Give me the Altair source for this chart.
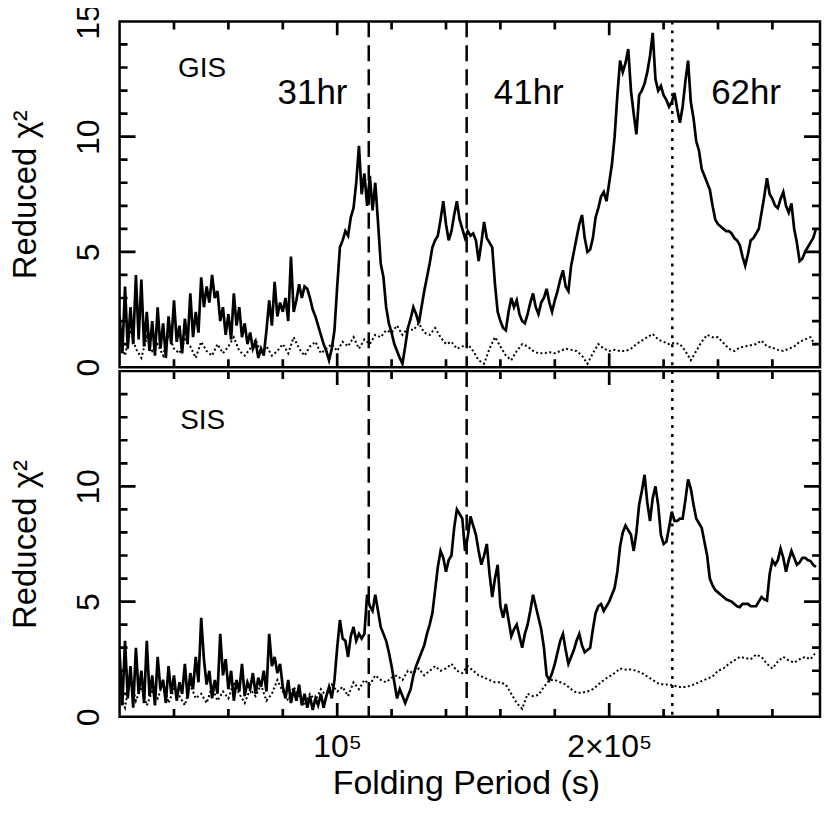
import altair as alt
import numpy as np
import pandas as pd

# ---------------- data ----------------
# Folding-period grids start at 20 ks; solid curves every 1 ks, dotted every 2 ks
PERIOD_START_KS = 20
SOLID_STEP_KS = 1
DOT_STEP_KS = 2

gis_solid = [
    2.2, 0.6, 3.5, 0.8, 2.6, 1.0, 4.0, 1.2, 3.8, 0.9,
    2.4, 0.7, 2.0, 0.5, 2.6, 0.8, 1.9, 0.4, 2.2, 1.0,
    2.9, 1.1, 1.8, 0.6, 2.1, 1.0, 3.2, 1.3, 2.4, 1.5,
    3.9, 2.6, 3.5, 2.8, 4.0, 3.0, 3.3, 2.0, 2.6, 1.4,
    2.3, 1.2, 3.2, 1.8, 2.6, 1.3, 1.9, 1.0, 1.5, 0.8,
    1.1, 0.4, 0.8, 0.5, 1.6, 2.9, 1.8, 3.7, 2.2, 2.8,
    2.4, 3.0, 2.0, 4.8, 2.4, 2.9, 3.6, 3.0, 3.5, 3.4,
    3.0, 2.5, 2.2, 1.8, 1.4, 1.0, 0.7, 0.3, 0.8, 1.6,
    3.5, 5.2, 5.5, 5.9, 5.7, 6.5, 6.9, 8.0, 9.6, 7.5,
    8.4, 7.0, 8.3, 6.8, 8.0, 6.3, 4.5, 3.9, 2.6, 1.9,
    1.5, 1.0, 0.7, 0.4, 0.15, 0.9, 1.7, 2.1, 2.6, 2.3,
    1.9, 2.6, 3.3, 3.9, 4.5, 5.2, 5.5, 5.7, 6.4, 7.2,
    6.2, 5.5, 5.9, 6.6, 7.2, 6.4, 6.0, 5.6, 5.9, 5.7,
    5.8, 5.5, 4.6, 5.4, 6.3, 5.6, 5.4, 5.2, 3.6, 2.4,
    2.0, 1.7, 1.6, 2.4, 3.0, 2.6, 2.9, 2.3, 2.0, 1.9,
    2.3, 2.8, 3.2, 2.6, 2.3, 2.8, 3.0, 3.4, 2.8, 2.4,
    2.9, 3.3, 3.8, 4.2, 3.5, 3.3, 4.4, 5.0, 5.6, 6.2,
    6.6, 5.6, 5.0, 5.1, 5.6, 6.5, 6.9, 7.4, 7.6, 7.2,
    8.0, 8.8, 10.0, 11.8, 13.3, 12.8, 13.2, 13.8, 12.0, 11.0,
    10.1, 11.8, 12.0, 12.3, 12.8, 13.5, 14.5, 12.5, 12.0, 12.2,
    11.8, 11.6, 11.3, 11.5, 11.9, 11.2, 10.6, 11.3, 12.4, 13.3,
    11.5, 10.8, 9.8, 9.4, 8.6, 8.3, 8.0, 7.7, 7.0, 6.4,
    6.2, 6.1, 6.0, 5.9, 5.9, 5.8, 5.6, 5.5, 5.3, 4.8,
    4.4, 4.9, 5.5, 5.6, 5.8, 6.0, 6.7, 7.4, 8.2, 7.5,
    7.3, 7.0, 6.9, 7.3, 7.6, 7.0, 6.7, 7.1, 6.0, 5.4,
    4.6, 4.7, 5.0, 5.2, 5.4, 5.6, 6.0,
]

gis_dotted = [
    1.2, 0.5, 1.6, 0.8, 0.4, 1.3, 0.7, 1.0, 0.5, 1.4,
    0.8, 0.6, 1.2, 0.9, 0.4, 1.1, 0.7, 0.5, 1.0, 0.6,
    0.9, 1.3, 0.7, 0.5, 0.8, 1.2, 0.6, 0.9, 0.5, 0.7,
    1.0, 0.6, 1.3, 0.8, 0.5, 0.9, 1.1, 0.6, 0.8, 1.0,
    0.7, 1.1, 0.9, 1.3, 0.8, 1.2, 1.0, 1.4, 1.3, 1.6,
    1.5, 1.8, 1.4, 1.7, 1.6, 1.9, 1.5, 1.4, 1.7, 1.3,
    1.0, 1.1, 0.8, 0.9, 1.0, 0.7, 0.3, 0.15, 0.8, 1.3,
    0.9, 0.5, 0.3, 0.7, 1.0, 0.9, 0.7, 0.6, 0.6, 0.65,
    0.6, 0.7, 0.8, 0.75, 0.7, 0.5, 0.15, 0.6, 1.0, 0.8,
    0.7, 0.75, 0.7, 0.7, 0.8, 1.0, 1.15, 1.3, 1.44, 1.2,
    1.1, 1.0, 1.05, 1.0, 0.7, 0.3, 0.7, 1.1, 1.4, 1.3,
    1.3, 1.05, 0.8, 0.7, 0.85, 0.9, 0.95, 1.0, 1.15, 0.9,
    0.85, 0.75, 0.7, 0.8, 0.9, 1.1, 1.2, 1.3, 0.9,
]

sis_solid = [
    2.8, 0.5, 3.3, 0.8, 2.2, 0.4, 3.0, 1.0, 2.0, 0.6,
    3.3, 0.9, 1.8, 0.5, 2.6, 1.2, 1.6, 0.6, 2.2, 1.0,
    1.8, 0.7, 1.5, 1.0, 2.3, 0.8, 1.9, 1.2, 2.6, 1.5,
    4.3, 2.5, 1.4, 2.0, 0.8, 1.6, 1.0, 3.6, 1.8, 2.5,
    1.2, 2.0, 0.7, 1.6, 1.1, 2.3, 0.9, 1.5, 1.2, 1.9,
    1.0, 1.7, 1.3, 2.0, 1.1, 3.6, 2.2, 2.6, 1.9, 2.3,
    1.3, 0.8, 1.6, 0.6, 1.2, 0.7, 1.4, 0.5, 1.0, 0.4,
    0.9, 0.3, 0.8, 0.5, 1.0, 0.4, 0.9, 1.3, 0.8, 1.6,
    3.0, 4.2, 3.4, 3.3, 2.6, 3.5, 3.9, 3.3, 3.6, 3.4,
    3.6, 5.3, 4.8, 4.6, 5.3, 4.6, 3.9, 3.6, 3.3, 2.8,
    2.2, 1.5, 0.8, 1.2, 0.9, 0.6, 0.9, 1.2, 1.8, 2.2,
    2.5, 2.8, 3.1, 3.6, 4.0, 4.5, 5.5, 6.5, 7.2, 6.9,
    6.3, 6.8, 7.0, 8.2, 9.0, 8.8, 8.6, 7.2, 7.8, 8.7,
    8.3, 7.9, 7.2, 6.6, 7.0, 7.5, 6.2, 5.2, 6.0, 6.6,
    4.8, 4.3, 4.9, 4.2, 3.5, 3.8, 4.0, 3.5, 3.0, 3.6,
    4.0, 4.6, 5.3, 4.8, 4.3, 3.8, 3.0, 1.8, 1.6, 1.9,
    2.3, 2.8, 3.3, 3.6, 2.9, 2.3, 2.6, 2.9, 3.3, 3.6,
    3.1, 2.8, 2.9, 3.0, 3.8, 4.5, 4.8, 4.9, 4.6, 4.8,
    5.0, 5.3, 5.6, 6.3, 7.4, 8.0, 8.3, 8.1, 7.9, 7.2,
    8.0, 9.2, 9.8, 10.5, 9.3, 8.5, 9.5, 10.0, 9.2, 7.9,
    7.5, 7.6, 8.2, 8.9, 8.5, 8.5, 8.6, 8.6, 9.4, 10.3,
    9.9, 9.2, 8.6, 8.4, 8.2, 7.6, 7.0, 6.0, 5.7, 5.5,
    5.4, 5.3, 5.2, 5.1, 5.05, 5.0, 4.9, 4.8, 4.76, 4.9,
    4.9, 4.9, 4.8, 4.8, 4.8, 5.0, 5.2, 5.1, 5.05, 6.2,
    6.8, 6.6, 6.8, 7.3, 6.9, 6.3, 6.8, 7.2, 6.9, 6.6,
    6.7, 6.9, 6.9, 6.8, 6.76, 6.6, 6.5,
]

sis_dotted = [
    1.0, 0.4, 1.8, 0.7, 1.3, 0.5, 1.1, 0.8, 1.5, 0.6,
    1.2, 0.9, 0.5, 1.4, 0.8, 1.0, 0.6, 1.3, 0.7, 1.1,
    0.8, 1.5, 1.0, 0.6, 1.2, 0.9, 1.4, 0.7, 1.0, 1.6,
    1.1, 0.7, 1.3, 0.9, 0.5, 1.0, 0.7, 1.2, 0.9, 1.4,
    1.1, 1.3, 0.9, 1.5, 1.2, 1.6, 1.4, 1.8, 1.6, 1.5,
    1.7, 1.8, 1.6, 2.0, 1.9, 2.1, 1.8, 2.0, 2.2, 2.0,
    2.1, 2.3, 2.0, 1.9, 2.2, 2.0, 1.8, 1.7, 1.6, 1.5,
    1.5, 1.4, 1.0, 0.6, 0.35, 1.0, 0.9, 0.95, 1.3, 1.6,
    1.6, 1.5, 1.4, 1.2, 1.05, 1.05, 1.1, 1.2, 1.4, 1.6,
    1.75, 1.9, 2.1, 2.05, 2.05, 2.0, 1.9, 1.75, 1.6, 1.45,
    1.4, 1.4, 1.35, 1.3, 1.3, 1.35, 1.45, 1.55, 1.65, 1.75,
    2.0, 2.1, 2.3, 2.45, 2.6, 2.55, 2.5, 2.7, 2.6, 2.3,
    2.1, 2.4, 2.6, 2.45, 2.35, 2.5, 2.6, 2.5, 2.8,
]

x_domain = [20000, 277500]
y_domain = [0, 15]
x_tick_minor = [40000, 60000, 80000, 120000, 140000, 160000, 180000, 220000, 240000, 260000]
x_tick_major = [100000, 200000]
y_tick_minor = [1, 2, 3, 4, 6, 7, 8, 9, 11, 12, 13, 14]
y_tick_major = [5, 10]
marker_dashed = [111600, 147600]   # 31 hr, 41 hr
marker_dotted = [223200]           # 62 hr

# annotation texts (data coordinates)
gis_note = {"t": ["GIS"], "P": [41500], "v": [12.6]}
sis_note = {"t": ["SIS"], "P": [42300], "v": [12.5]}
hr_note = {"t": ["31hr", "41hr", "62hr"], "P": [78100, 157600, 237500], "v": [11.4, 11.4, 11.4]}

# ---------------- chart ----------------
W = 703
H_TOP, H_BOT = 347, 347
FONT = "Liberation Sans"
xs = alt.Scale(domain=x_domain, nice=False, zero=False)
ys = alt.Scale(domain=y_domain, nice=False, zero=False)
X_SPAN = x_domain[1] - x_domain[0]
Y_SPAN = y_domain[1] - y_domain[0]
X_TICK_PX = (8, 14)   # minor, major
Y_TICK_PX = (8, 16)


def solid_with_ticks(vals, H):
    """Solid curve plus two-point segments for the inward frame ticks."""
    p = (PERIOD_START_KS + SOLID_STEP_KS * np.arange(len(vals))) * 1000
    rows = [("curve", float(pi), float(pi), float(v)) for pi, v in zip(p, vals)]
    ylen = lambda px: px * Y_SPAN / H
    xlen = lambda px: px * X_SPAN / W
    x0, x1 = x_domain
    y0, y1 = y_domain
    k = 0
    for tv, L in [(x_tick_minor, X_TICK_PX[0]), (x_tick_major, X_TICK_PX[1])]:
        for t in tv:
            for a, b in [(y0, y0 + ylen(L)), (y1, y1 - ylen(L))]:
                rows += [(f"t{k}", 0.0, t, a), (f"t{k}", 1.0, t, b)]
                k += 1
    for tv, L in [(y_tick_minor, Y_TICK_PX[0]), (y_tick_major, Y_TICK_PX[1])]:
        for t in tv:
            for a, b in [(x0, x0 + xlen(L)), (x1, x1 - xlen(L))]:
                rows += [(f"t{k}", 0.0, a, t), (f"t{k}", 1.0, b, t)]
                k += 1
    return pd.DataFrame(rows, columns=["grp", "o", "P", "chi"])


def dotted_df(vals):
    p = (PERIOD_START_KS + DOT_STEP_KS * np.arange(len(vals))) * 1000
    return pd.DataFrame({"P": p, "chi": vals})


def panel(solid, dotted, note, ylabels, show_x, H):
    if show_x:
        xaxis = alt.Axis(
            values=x_tick_major,
            labelExpr="datum.value == 100000 ? '10⁵' : '2×10⁵'",
            labelFont=FONT, labelFontSize=32, labelColor="black",
            labelAlign="center", labelBaseline="alphabetic", labelPadding=40,
            ticks=False, tickSize=0, domain=False, grid=False,
            title="Folding Period (s)", titleFont=FONT, titleFontSize=34,
            titleFontWeight="normal", titleColor="black",
            titleAlign="center", titleBaseline="alphabetic",
            titleX=W / 2 - 4, titleY=77,
        )
    else:
        xaxis = None
    yaxis = alt.Axis(
        values=ylabels,
        labelFont=FONT, labelFontSize=32, labelColor="black",
        labelAngle=270, labelAlign="center", labelBaseline="alphabetic",
        labelPadding=21,
        ticks=False, tickSize=0, domain=False, grid=False,
        title="Reduced χ²", titleFont=FONT, titleFontSize=33,
        titleFontWeight="normal", titleColor="black",
        titleAngle=270, titleAlign="center", titleBaseline="alphabetic",
        titleX=-84, titleY=H / 2,
    )

    def X(field="P"):
        return alt.X(f"{field}:Q", scale=xs, axis=xaxis)

    def Y(field="chi"):
        return alt.Y(f"{field}:Q", scale=ys, axis=yaxis)

    layers = []
    layers.append(alt.Chart(dotted_df(dotted)).mark_line(
        color="black", strokeWidth=2, strokeDash=[2, 2.5], clip=True
    ).encode(x=X(), y=Y()))
    layers.append(alt.Chart(solid_with_ticks(solid, H)).mark_line(
        color="black", strokeWidth=2.7, clip=True, strokeCap="butt"
    ).encode(x=X(), y=Y(), detail="grp:N", order="o:Q"))
    layers.append(alt.Chart(pd.DataFrame({"P": marker_dashed})).mark_rule(
        color="black", strokeWidth=2.5, strokeDash=[16, 8]
    ).encode(x=X()))
    layers.append(alt.Chart(pd.DataFrame({"P": marker_dotted})).mark_rule(
        color="black", strokeWidth=2.5, strokeDash=[3, 6]
    ).encode(x=X()))
    layers.append(alt.Chart(pd.DataFrame(note)).mark_text(
        align="left", baseline="alphabetic", font=FONT, fontSize=28, color="black"
    ).encode(x=X(), y=Y("v"), text="t:N"))
    if not show_x:
        layers.append(alt.Chart(pd.DataFrame(hr_note)).mark_text(
            align="left", baseline="alphabetic", font=FONT, fontSize=35, color="black"
        ).encode(x=X(), y=Y("v"), text="t:N"))
    return alt.layer(*layers).properties(width=W, height=H)


top = panel(gis_solid, gis_dotted, gis_note, [0, 5, 10, 15], False, H_TOP)
bottom = panel(sis_solid, sis_dotted, sis_note, [0, 5, 10], True, H_BOT)

chart = alt.vconcat(top, bottom, spacing=4, bounds="flush").properties(
    padding={"left": 0, "top": -8, "right": 0, "bottom": 0},
    background="white",
).configure_view(stroke="black", strokeWidth=2.5)

chart.save("out.html", embed_options={"renderer": "svg", "actions": False})
